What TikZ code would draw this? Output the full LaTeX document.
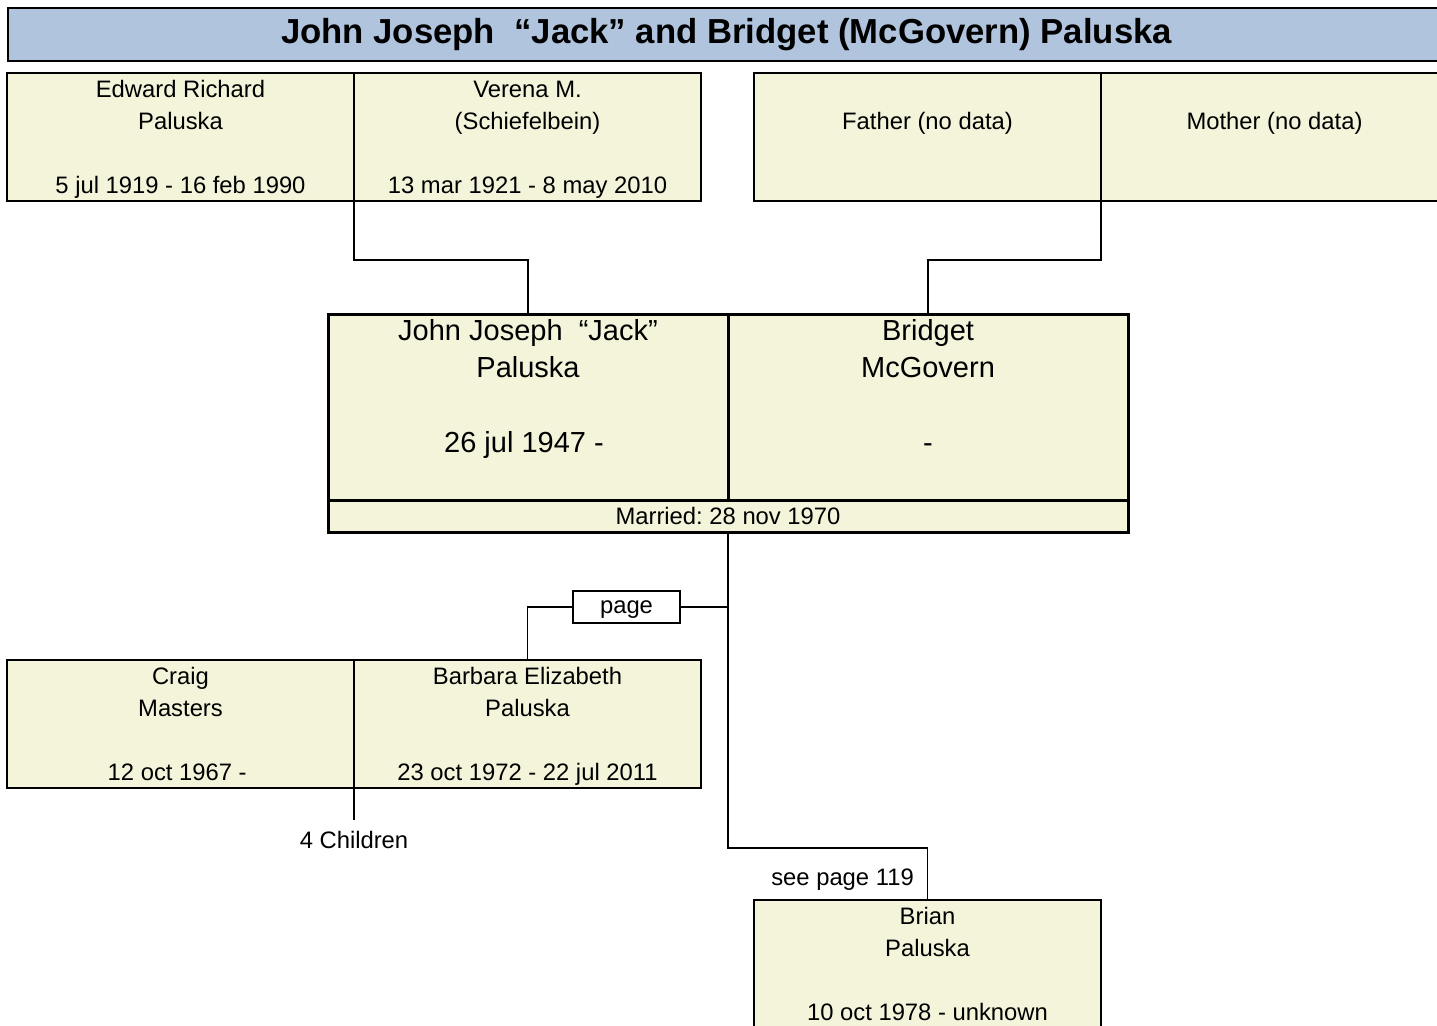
\documentclass[tikz,border=0pt]{standalone}
\usepackage{fontspec}
\setmainfont{Liberation Sans}
\usetikzlibrary{positioning}
\definecolor{titleblue}{HTML}{B0C4DE}
\definecolor{cardfill}{HTML}{F4F4DB}
\frenchspacing

\begin{document}
\begin{tikzpicture}[x=1pt, y=-1pt,
  card/.style={draw,line width=1.8pt,fill=cardfill,minimum width=347pt,minimum height=128pt,inner sep=0pt,outer sep=0pt},
  couple/.style={draw,line width=3pt,fill=cardfill,minimum width=400pt,minimum height=186pt,inner sep=0pt,outer sep=0pt},
  band/.style={draw,line width=3pt,fill=cardfill,minimum width=800pt,minimum height=32pt,inner sep=0pt,outer sep=0pt,font=\fontsize{23.8}{28}\selectfont},
  ctext/.style={align=center,anchor=north,inner sep=0pt,yshift=-1.6pt,font=\fontsize{23.8}{32}\selectfont},
  btext/.style={align=center,anchor=north,inner sep=0pt,font=\fontsize{29}{37.5}\selectfont},
  plain/.style={inner sep=0pt,font=\fontsize{23.8}{28}\selectfont},
  link/.style={line width=1.8pt}]
\useasboundingbox (0,0) rectangle (1437,1025);
\clip (0,0) rectangle (1437,1025);
% header
\node[draw,line width=2.2pt,fill=titleblue,anchor=north west,minimum width=1437pt,minimum height=53pt,
  font=\bfseries\fontsize{34.7}{40}\selectfont] (title) at (7,7)
  {John Joseph\ \ “Jack” and Bridget (McGovern) Paluska};
% parents
\node[card,anchor=north west,label={[ctext]north:{\strut Edward Richard\\Paluska\\~\\5 jul 1919 - 16 feb 1990}}] (edward) at (7,73) {};
\node[card,right=0pt of edward,label={[ctext]north:{\strut Verena M.\\(Schiefelbein)\\~\\13 mar 1921 - 8 may 2010}}] (verena) {};
\node[card,anchor=north west,label={[ctext]north:{\strut~\\Father (no data)}}] (father) at (754,73) {};
\node[card,right=0pt of father,label={[ctext]north:{\strut~\\Mother (no data)}}] (mother) {};
% couple
\node[couple,anchor=north west,label={[btext]north:{\strut John Joseph\ \ “Jack”\\Paluska\\~\\26 jul 1947 -\ \mbox{}}}] (john) at (328,314) {};
\node[couple,right=0pt of john,label={[btext]north:{\strut Bridget\\McGovern\\~\\-}}] (bridget) {};
\node[band,below=0pt of john.south east] (married) {Married: 28 nov 1970};
% children
\node[card,anchor=north west,label={[ctext]north:{\strut Craig\\Masters\\~\\12 oct 1967 -\ \mbox{}}}] (craig) at (7,660) {};
\node[card,right=0pt of craig,label={[ctext]north:{\strut Barbara Elizabeth\\Paluska\\~\\23 oct 1972 - 22 jul 2011}}] (barbara) {};
\node[card,anchor=north west,label={[ctext]north:{\strut Brian\\Paluska\\~\\10 oct 1978 - unknown}}] (brian) at (754,900) {};
\node[draw,line width=1.8pt,fill=white,minimum width=107pt,minimum height=32pt,plain,text height=17pt,text depth=5pt] (pagebox) at (626.5,607) {page};
\node[plain,anchor=base] (kids) at (354,848) {4 Children};
\node[plain,anchor=base east] (seepage) at (914,885) {see page 119};
% lines
\draw[link] (edward.south east) -- ++(0,59) -| (john.north);
\draw[link] (father.south east) -- ++(0,59) -| (bridget.north);
\draw[link] (married.south) -- ++(0,316) -| (brian.north);
\draw[link] (pagebox.east) -- (pagebox.east -| married.south);
\draw[link] (pagebox.west) -| (barbara.north);
\draw[link] (craig.south east) -- ++(0,32);
\end{tikzpicture}
\end{document}
